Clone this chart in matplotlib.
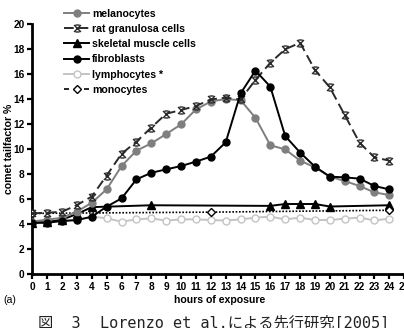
import matplotlib
matplotlib.use("Agg")
import matplotlib.pyplot as plt
from matplotlib.path import Path

# hours of exposure
hours = list(range(25))

melanocytes = [4.2, 4.35, 4.5, 5.0, 5.7, 6.78, 8.64, 9.87, 10.45, 11.2, 11.97, 13.17,
               13.8, 14.0, 13.9, 12.5, 10.3, 9.97, 9.07, 8.53, 7.79, 7.44, 7.04, 6.53, 6.32]
rat_granulosa = [4.85, 4.9, 4.98, 5.52, 6.2, 7.88, 9.62, 10.59, 11.72, 12.82, 13.12, 13.44,
                 13.97, 14.1, 13.97, 15.52, 16.9, 17.98, 18.5, 16.32, 14.93, 12.72, 10.5, 9.33, 9.07]
fibroblasts = [4.1, 4.1, 4.24, 4.32, 4.58, 5.39, 6.05, 7.57, 8.1, 8.37, 8.64, 8.99,
               9.39, 10.53, 14.45, 16.27, 14.99, 11.04, 9.72, 8.59, 7.79, 7.73, 7.63, 7.04, 6.77]
lymphocytes = [4.1, 4.2, 4.25, 4.3, 4.6, 4.45, 4.19, 4.37, 4.45, 4.27, 4.37, 4.37,
               4.32, 4.28, 4.37, 4.51, 4.59, 4.37, 4.51, 4.32, 4.32, 4.43, 4.51, 4.29, 4.43]

# skeletal muscle and monocytes only have markers at some hours
muscle_hours = [0, 1, 2, 3, 4, 8, 16, 17, 18, 19, 20, 24]
skeletal_muscle = [4.1, 4.15, 4.35, 4.8, 5.35, 5.5, 5.45, 5.6, 5.6, 5.6, 5.4, 5.5]
mono_hours = [0, 12, 24]
monocytes = [4.85, 4.95, 5.1]

x_ticks = list(range(26))
y_ticks = [0, 2, 4, 6, 8, 10, 12, 14, 16, 18, 20]

# X with short caps top and bottom, like the original marker
cross_marker = Path(
    [(-1, -1), (1, 1), (-1, 1), (1, -1), (-0.6, 1), (0.6, 1), (-0.6, -1), (0.6, -1)],
    [Path.MOVETO, Path.LINETO] * 4,
)


def plot_comet(fig):
    """Draw the comet tailfactor curves."""
    ax = fig.add_axes([0.08, 0.1646, 0.9205, 0.7622])
    lw = 1.4
    ax.plot(hours, melanocytes, color="#7f7f7f", lw=lw, marker="o", ms=5,
            mfc="#7f7f7f", mec="#7f7f7f", label="melanocytes", zorder=4)
    ax.plot(hours, rat_granulosa, color="#2a2a2a", lw=lw, ls=(0, (5, 2.5)),
            marker=cross_marker, ms=5, mew=1.0, mfc="none", mec="#2a2a2a",
            label="rat granulosa cells", zorder=5)
    ax.plot(muscle_hours, skeletal_muscle, color="black", lw=lw, marker="^", ms=5.5,
            label="skeletal muscle cells", zorder=3)
    ax.plot(hours, fibroblasts, color="black", lw=lw, marker="o", ms=5,
            label="fibroblasts", zorder=6)
    ax.plot(hours, lymphocytes, color="#c4c4c4", lw=lw, marker="o", ms=5,
            mfc="white", mec="#c4c4c4", label="lymphocytes *", zorder=2)
    ax.plot(mono_hours, monocytes, color="black", lw=1.2, ls=(0, (1, 1)),
            marker="D", ms=4.5, mfc="white", mec="black", mew=1.0,
            label="monocytes", zorder=3)

    ax.set_xlim(0, 25)
    ax.set_ylim(0, 20)
    ax.set_xticks(x_ticks)
    ax.set_yticks(y_ticks)
    for side in ["top", "right"]:
        ax.spines[side].set_visible(False)
    for side in ["left", "bottom"]:
        ax.spines[side].set_linewidth(2)
    ax.tick_params(width=1.6, length=3.5, labelsize=7.3, pad=2)
    for lab in ax.get_xticklabels() + ax.get_yticklabels():
        lab.set_fontweight("bold")
        lab.set_fontfamily("Liberation Sans")
    for s in ax.spines.values():
        s.set_clip_on(False)
    return ax


def main():
    fig = plt.figure(figsize=(4.04, 3.28), dpi=100)
    ax = plot_comet(fig)

    handles, labels = ax.get_legend_handles_labels()
    leg = fig.legend(handles, labels, loc="upper left", bbox_to_anchor=(0.145, 0.99),
                     frameon=False, borderpad=0, handlelength=2.4, handletextpad=0.25,
                     labelspacing=0.5,
                     prop={"family": "Liberation Sans", "weight": "bold", "size": 7.6})
    leg.legend_handles[5].set_linestyle((0, (3, 3)))

    fig.text(9 / 404, 1 - 149 / 328, "comet tailfactor %", rotation=90, ha="center",
             va="center", fontsize=7.6, fontweight="bold", family="Liberation Sans")
    fig.text(220 / 404, 1 - 300 / 328, "hours of exposure", ha="center", va="center",
             fontsize=7.6, fontweight="bold", family="Liberation Sans")
    fig.text(3 / 404, 1 - 300 / 328, "(a)", ha="left", va="center",
             fontsize=7.6, family="Liberation Sans")

    # caption, cut off at the bottom edge like the scan
    cap_font = ["DejaVu Sans Mono", "Noto Sans CJK JP"]
    fig.text(38 / 404, 1 - 316 / 328, "図  3", ha="left", va="top", fontsize=11,
             family=cap_font, color="#222222")
    fig.text(100 / 404, 1 - 316 / 328, "Lorenzo et al.による先行研究[2005]", ha="left",
             va="top", fontsize=11, family=cap_font, color="#222222")

    fig.savefig("out.png", dpi=100)


if __name__ == '__main__':
    main()
